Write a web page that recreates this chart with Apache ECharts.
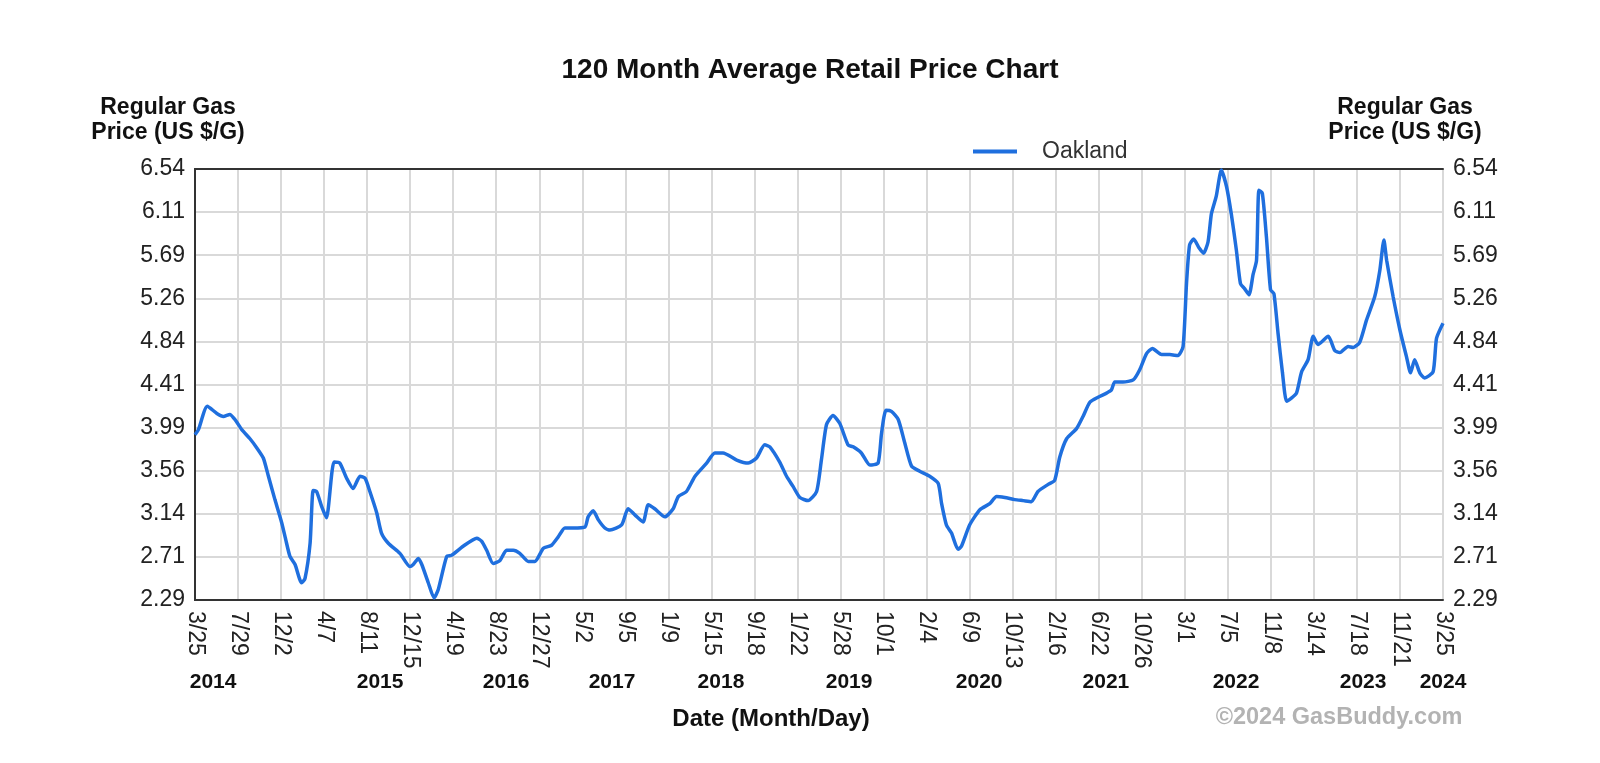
<!DOCTYPE html>
<html>
<head>
<meta charset="utf-8">
<script src="https://cdn.jsdelivr.net/npm/echarts@6/dist/echarts.min.js"></script>
<style>
html,body{margin:0;padding:0;background:#fff;}
#chart{width:1600px;height:763px;}
</style>
</head>
<body>
<div id="chart"></div>
<script>
// X axis: days since 2014-03-25; a grid line every 126 days
const xTickLabels = ['3/25','7/29','12/2','4/7','8/11','12/15','4/19','8/23','12/27','5/2','9/5','1/9','5/15','9/18','1/22','5/28','10/1','2/4','6/9','10/13','2/16','6/22','10/26','3/1','7/5','11/8','3/14','7/18','11/21','3/25'];
const xTickStep = 126;
const yearLabels = ['2014','2015','2016','2017','2018','2019','2020','2021','2022','2023','2024'];
const yearPos = [53,542,911,1221,1540,1915,2296,2667,3048,3420,3654];
const yTickLabels = ['2.29','2.71','3.14','3.56','3.99','4.41','4.84','5.26','5.69','6.11','6.54'];
const yMin = 2.29, yMax = 6.54, yStep = 0.425;
const seriesName = 'Oakland';
// [day since 2014-03-25, price US $/G]
const oakland = [[0,3.92],[10,3.97],[36,4.20],[64,4.13],[83,4.10],[102,4.12],[117,4.07],[137,3.97],[161,3.88],[181,3.79],[200,3.69],[215,3.51],[234,3.28],[254,3.05],[266,2.88],[278,2.72],[293,2.64],[312,2.46],[322,2.50],[337,2.85],[346,3.37],[356,3.36],[371,3.21],[385,3.10],[407,3.65],[424,3.64],[444,3.49],[463,3.39],[483,3.51],[498,3.49],[512,3.36],[532,3.15],[546,2.95],[566,2.85],[600,2.75],[629,2.62],[639,2.64],[654,2.70],[664,2.64],[683,2.46],[700,2.31],[712,2.39],[737,2.72],[751,2.73],[785,2.82],[825,2.90],[839,2.87],[854,2.78],[873,2.65],[893,2.68],[912,2.78],[932,2.78],[951,2.75],[976,2.67],[995,2.67],[1020,2.80],[1044,2.83],[1063,2.91],[1083,3.00],[1107,3.00],[1142,3.01],[1151,3.11],[1166,3.17],[1181,3.08],[1200,3.00],[1215,2.98],[1249,3.03],[1268,3.19],[1288,3.13],[1312,3.06],[1327,3.23],[1346,3.19],[1376,3.11],[1400,3.19],[1415,3.31],[1439,3.36],[1464,3.51],[1498,3.64],[1522,3.74],[1546,3.74],[1586,3.67],[1620,3.64],[1644,3.69],[1668,3.82],[1683,3.80],[1712,3.65],[1732,3.51],[1751,3.41],[1771,3.30],[1795,3.27],[1820,3.36],[1834,3.67],[1849,4.02],[1868,4.11],[1888,4.03],[1912,3.82],[1927,3.80],[1951,3.74],[1976,3.62],[2000,3.64],[2010,3.93],[2023,4.16],[2039,4.15],[2059,4.07],[2078,3.84],[2098,3.61],[2122,3.56],[2151,3.51],[2176,3.44],[2186,3.24],[2200,3.03],[2215,2.95],[2234,2.79],[2244,2.82],[2268,3.03],[2298,3.18],[2327,3.24],[2347,3.31],[2371,3.30],[2400,3.28],[2425,3.27],[2449,3.26],[2468,3.36],[2498,3.43],[2517,3.47],[2532,3.70],[2552,3.88],[2581,3.98],[2600,4.10],[2620,4.24],[2644,4.29],[2669,4.33],[2683,4.36],[2693,4.44],[2717,4.44],[2747,4.46],[2766,4.56],[2786,4.72],[2803,4.77],[2830,4.71],[2854,4.71],[2878,4.70],[2893,4.79],[2903,5.41],[2912,5.79],[2924,5.85],[2940,5.76],[2953,5.71],[2966,5.82],[2976,6.10],[2990,6.27],[3005,6.53],[3020,6.37],[3034,6.10],[3049,5.74],[3061,5.41],[3073,5.36],[3086,5.30],[3098,5.50],[3108,5.64],[3115,6.33],[3125,6.30],[3137,5.87],[3149,5.35],[3159,5.31],[3171,4.92],[3184,4.53],[3196,4.25],[3210,4.28],[3225,4.33],[3240,4.54],[3259,4.66],[3274,4.89],[3288,4.81],[3318,4.89],[3337,4.75],[3352,4.73],[3376,4.79],[3391,4.78],[3410,4.83],[3430,5.05],[3454,5.28],[3469,5.54],[3481,5.84],[3489,5.64],[3508,5.28],[3528,4.95],[3547,4.69],[3559,4.53],[3571,4.66],[3586,4.53],[3600,4.48],[3625,4.54],[3635,4.87],[3654,5.02]];

const FONT = "'Liberation Sans', Arial, Helvetica, sans-serif";
const FRAME = {show: true, lineStyle: {color: '#333', width: 2}};
const GRIDLINE = {show: true, lineStyle: {color: '#d9d9d9', width: 2}};
const xMax = xTickStep * (xTickLabels.length - 1);
const yLabelFmt = v => yTickLabels[Math.round((v - yMin) / yStep)] || '';

const chart = echarts.init(document.getElementById('chart'), null, {renderer: 'canvas'});
const yAxisCommon = {
  type: 'value', min: yMin, max: yMax, interval: yStep,
  axisLine: FRAME, axisTick: {show: false},
  axisLabel: {formatter: yLabelFmt, fontFamily: FONT, fontSize: 23, color: '#222', margin: 10}
};
chart.setOption({
  animation: false,
  backgroundColor: '#fff',
  grid: {left: 195, right: 157, top: 169, bottom: 163},
  legend: {
    data: [seriesName], left: 968, top: 135, icon: 'rect', itemWidth: 44, itemHeight: 4,
    textStyle: {fontFamily: FONT, fontSize: 23, color: '#333', padding: [0, 0, 0, 20]}
  },
  xAxis: [{
    type: 'value', min: 0, max: xMax, interval: xTickStep, position: 'bottom',
    axisLine: FRAME, axisTick: {show: false},
    splitLine: GRIDLINE,
    axisLabel: {
      rotate: -90, margin: 11, fontFamily: FONT, fontSize: 23, color: '#222',
      showMinLabel: true, showMaxLabel: true,
      formatter: v => xTickLabels[Math.round(v / xTickStep)] || ''
    }
  }, {
    type: 'value', min: 0, max: xMax, position: 'bottom',
    axisLine: {show: false}, axisTick: {show: false}, splitLine: {show: false},
    axisLabel: {
      customValues: yearPos, margin: 72, fontFamily: FONT, fontSize: 21, fontWeight: 'bold', color: '#111',
      showMinLabel: true, showMaxLabel: true, hideOverlap: false,
      formatter: v => { const i = yearPos.indexOf(Math.round(v)); return i >= 0 ? yearLabels[i] : ''; }
    }
  }, {
    type: 'value', min: 0, max: xMax, position: 'top',
    axisLine: FRAME, axisTick: {show: false}, splitLine: {show: false}, axisLabel: {show: false}
  }],
  yAxis: [
    Object.assign({}, yAxisCommon, {position: 'left', splitLine: GRIDLINE}),
    Object.assign({}, yAxisCommon, {position: 'right', splitLine: {show: false}})
  ],
  series: [{
    name: seriesName, type: 'line', data: oakland, xAxisIndex: 0, yAxisIndex: 0,
    showSymbol: false, smooth: 0.2, color: '#1f6fde',
    lineStyle: {width: 3.5, color: '#1f6fde'}
  }],
  graphic: [
    {type: 'text', x: 810, y: 70, style: {text: '120 Month Average Retail Price Chart', font: 'bold 28px ' + FONT, fill: '#111', align: 'center', verticalAlign: 'middle', textAlign: 'center', textVerticalAlign: 'middle'}},
    {type: 'text', x: 168, y: 120, style: {text: 'Regular Gas\nPrice (US $/G)', font: 'bold 23px ' + FONT, lineHeight: 25, fill: '#111', align: 'center', verticalAlign: 'middle', textAlign: 'center', textVerticalAlign: 'middle'}},
    {type: 'text', x: 1405, y: 120, style: {text: 'Regular Gas\nPrice (US $/G)', font: 'bold 23px ' + FONT, lineHeight: 25, fill: '#111', align: 'center', verticalAlign: 'middle', textAlign: 'center', textVerticalAlign: 'middle'}},
    {type: 'text', x: 771, y: 719, style: {text: 'Date (Month/Day)', font: 'bold 24px ' + FONT, fill: '#111', align: 'center', verticalAlign: 'middle', textAlign: 'center', textVerticalAlign: 'middle'}},
    {type: 'text', x: 1339, y: 718, style: {text: '\u00a92024 GasBuddy.com', font: 'bold 23.5px ' + FONT, fill: '#b3b3b3', align: 'center', verticalAlign: 'middle', textAlign: 'center', textVerticalAlign: 'middle'}}
  ]
});
</script>
</body>
</html>
